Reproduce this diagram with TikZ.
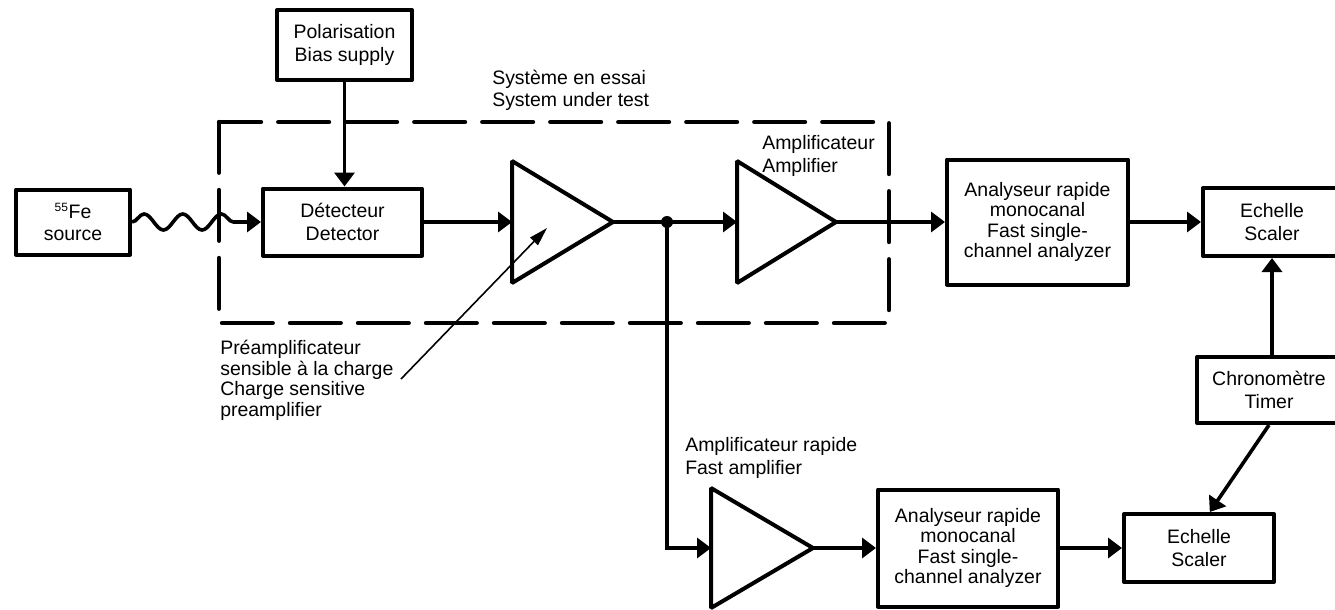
\documentclass[tikz,border=0pt]{standalone}
\usepackage{fontspec}
\setmainfont{Liberation Sans}
\usetikzlibrary{arrows.meta,decorations.pathmorphing,calc}
\begin{document}
\begin{tikzpicture}[x=0.75pt,y=-0.75pt,
  font=\fontsize{14.6}{17}\selectfont,
  blk/.style={draw,line width=3pt,rectangle,align=center,inner sep=0pt,line join=round},
  conn/.style={line width=2.7pt,-{Triangle[length=10.5pt,width=15pt]}},
  plain/.style={line width=2.7pt},
  amptri/.style={draw,line width=3pt,line join=miter,miter limit=2},
  sysbox/.style={line width=3.3pt,dash pattern=on 38pt off 13pt,line cap=round},
  pointer/.style={line width=1.2pt,-{Triangle[length=14pt,width=8pt]}},
  lbl/.style={align=left,inner sep=0pt,anchor=base west},
  tight/.style={font=\fontsize{14.6}{15.3}\selectfont}
]
\useasboundingbox (0,0) rectangle (1335,610);
\clip (0,0) rectangle (1335,610);

% blocks
\node[blk,minimum width=85.5pt,minimum height=48.75pt] (src) at (73,222) {\textsuperscript{\small 55}Fe\\source};
\node[blk,minimum width=119.25pt,minimum height=50.25pt] (det) at (342.5,222) {Détecteur\\Detector};
\node[blk,minimum width=101.25pt,minimum height=52.5pt] (pol) at (344.5,45) {Polarisation\\Bias supply};
\node[blk,tight,minimum width=135.75pt,minimum height=93.75pt] (an1) at (1037.5,222) {Analyseur rapide\\monocanal\\Fast single-\\channel analyzer};
\node[blk,minimum width=103.5pt,minimum height=51pt] (sc1) at (1272,222) {Echelle\\Scaler};
\node[blk,minimum width=108pt,minimum height=49.5pt] (tim) at (1269,390) {Chronomètre\\Timer};
\node[blk,tight,minimum width=135pt,minimum height=87.75pt] (an2) at (968,548) {Analyseur rapide\\monocanal\\Fast single-\\channel analyzer};
\node[blk,minimum width=112.5pt,minimum height=51pt] (sc2) at (1199,548) {Echelle\\Scaler};

% amplifier triangles
\draw[amptri] (512,161) -- (512,283) -- (613,222) -- cycle;
\coordinate (pain) at (512,222);
\coordinate (paout) at (613,222);
\coordinate (patarget) at (547,228);
\draw[amptri] (737,161) -- (737,283) -- (836,222) -- cycle;
\coordinate (ampin) at (737,222);
\coordinate (ampout) at (836,222);
\draw[amptri] (711,488) -- (711,608) -- (813,548) -- cycle;
\coordinate (famin) at (711,548);
\coordinate (famout) at (813,548);

% junction
\coordinate (jn) at (667,222);
\coordinate (jdown) at (667,548);
\fill (jn) circle[radius=4.5pt];

% system under test box
\draw[sysbox] (219,122) rectangle (889,323);

% connectors
\draw[line width=2.7pt,decorate,decoration={snake,segment length=29pt,amplitude=6pt,post length=14pt},-{Triangle[length=10.5pt,width=15pt]}] (src.east) -- (det.west);
\draw[conn] (pol.south) -- (pol.south |- det.north);
\draw[conn] (det.east) -- (pain);
\draw[plain] (paout) -- (jn);
\draw[conn] (jn) -- (ampin);
\draw[conn] (ampout) -- (an1.west);
\draw[conn] (an1.east) -- (sc1.west);
\draw[conn] (sc1.south |- tim.north) -- (sc1.south);
\draw[conn] (tim.south) -- ($(sc2.north west)!0.57!(sc2.north east)$);
\draw[conn] (jn) -- (jdown) -- (famin);
\draw[conn] (famout) -- (an2.west);
\draw[conn] (an2.east) -- (sc2.west);

% labels
\node[lbl] (lsys) at (492,107) {Système en essai\\System under test};
\node[lbl] (lamp) at (762,172) {Amplificateur\\Amplifier};
\node[lbl,tight] (lpre) at (220,416) {Préamplificateur\\sensible à la charge\\Charge sensitive\\preamplifier};
\node[lbl] (lfam) at (685,474) {Amplificateur rapide\\Fast amplifier};
\coordinate (pstart) at (401,379);
\draw[pointer] (pstart) -- (patarget);
\end{tikzpicture}
\end{document}
